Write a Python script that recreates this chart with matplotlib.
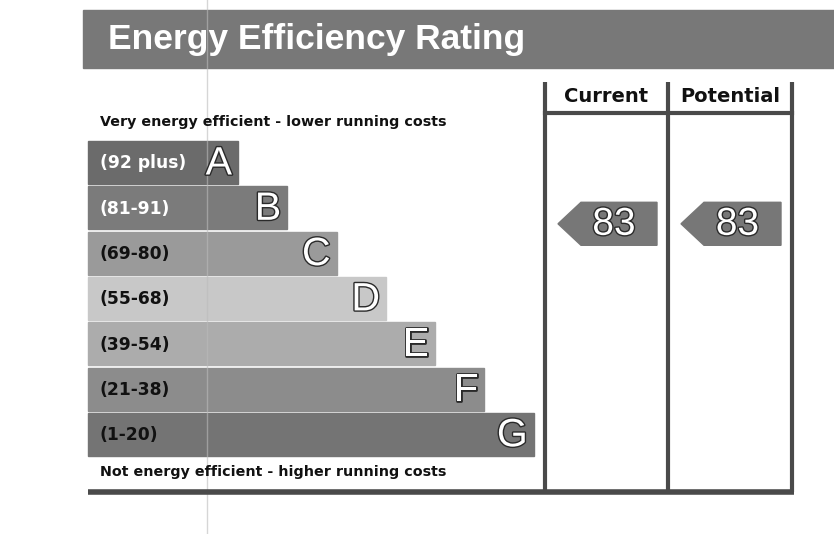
import matplotlib.pyplot as plt
from matplotlib.patches import Rectangle, Polygon
import matplotlib.patheffects as pe

plt.rcParams['font.family'] = ['Liberation Sans', 'DejaVu Sans']

# bands, best to worst
letters = ['A', 'B', 'C', 'D', 'E', 'F', 'G']
ranges = ['(92 plus)', '(81-91)', '(69-80)', '(55-68)', '(39-54)', '(21-38)', '(1-20)']
band_lo = [92, 81, 69, 55, 39, 21, 1]
band_colors = ['#6b6b6b', '#7b7b7b', '#9a9a9a', '#c8c8c8', '#acacac', '#8c8c8c', '#747474']
label_colors = ['white', 'white', '#111111', '#111111', '#111111', '#111111', '#111111']

columns = ['Current', 'Potential']
ratings = [83, 83]

title = 'Energy Efficiency Rating'
top_note = 'Very energy efficient - lower running costs'
bottom_note = 'Not energy efficient - higher running costs'

heavy = ['DejaVu Sans']

fig = plt.figure(figsize=(8.34, 5.34), dpi=100)
ax = fig.add_axes([0, 0, 1, 1])
ax.set_xlim(0, 834)
ax.set_ylim(534, 0)
ax.axis('off')

# title banner
ax.add_patch(Rectangle((83, 10), 760, 58, color='#787878', zorder=1))
ax.text(108, 39, title, color='white', fontsize=25.5, fontweight='bold',
        va='center', ha='left', zorder=3)

# rating bars
bar_x0 = 88
bar_top = 141
pitch = 45.3
bar_h = 43
w0, dw = 150, 49.3
outline = [pe.Stroke(linewidth=2.0, foreground='#2a2a2a'), pe.Normal()]
for i, (let, rng) in enumerate(zip(letters, ranges)):
    y = bar_top + i * pitch
    w = w0 + i * dw
    ax.add_patch(Rectangle((bar_x0, y), w, bar_h, color=band_colors[i], zorder=1))
    ax.text(bar_x0 + 12, y + bar_h / 2 + 1, rng, color=label_colors[i], fontsize=12.3,
            family=heavy, fontweight='bold', va='center', ha='left', zorder=3)
    ax.text(bar_x0 + w - 6, y + bar_h / 2 + 1, let, color='white', fontsize=28.5,
            va='center', ha='right', zorder=3, path_effects=outline)

ax.text(100, 122, top_note, color='#111111', fontsize=10.3, family=heavy, fontweight='bold',
        va='center', ha='left', zorder=3)
ax.text(100, 472, bottom_note, color='#111111', fontsize=10.3, family=heavy, fontweight='bold',
        va='center', ha='left', zorder=3)

# frame for current / potential columns
col_x = [545, 668, 792]
frame_c = '#4a4a4a'
for x in col_x:
    ax.plot([x, x], [82, 492], color=frame_c, lw=3, solid_capstyle='butt', zorder=4)
ax.plot([col_x[0], col_x[-1]], [113, 113], color=frame_c, lw=3, zorder=4)
ax.plot([88, col_x[-1] + 2], [492, 492], color=frame_c, lw=4, solid_capstyle='butt', zorder=4)
for j, name in enumerate(columns):
    ax.text((col_x[j] + col_x[j + 1]) / 2, 97, name, color='#111111', fontsize=14,
            family=heavy, fontweight='bold', va='center', ha='center', zorder=3)

# rating arrows
for j, r in enumerate(ratings):
    band = next(k for k, lo in enumerate(band_lo) if r >= lo)
    yc = bar_top + band * pitch + bar_h / 2 + 16
    xl = col_x[j] + 13
    xr = col_x[j + 1] - 11
    half = 21.5
    pts = [(xl, yc), (xl + 23, yc - half), (xr, yc - half), (xr, yc + half), (xl + 23, yc + half)]
    ax.add_patch(Polygon(pts, closed=True, color='#777777', zorder=2))
    ax.text((xl + 23 + xr) / 2 - 5, yc + 1, str(r), color='white', fontsize=28,
            va='center', ha='center', zorder=3, path_effects=outline)

# scan artefact line
ax.plot([207, 207], [0, 534], color='#bbbbbb', lw=1, alpha=0.6, zorder=2)

fig.savefig('out.png', dpi=100)
